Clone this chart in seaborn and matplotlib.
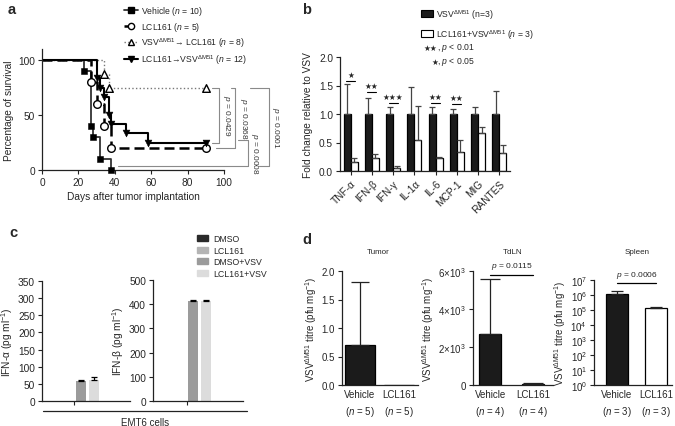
import numpy as np
import pandas as pd
import matplotlib
matplotlib.use("Agg")
import matplotlib.pyplot as plt
from matplotlib.lines import Line2D
from matplotlib.patches import Patch
import seaborn as sns

W, H = 675, 427

# ---- a: survival (percent surviving at each event day)
veh_days = [0, 23, 27, 28, 32, 38]
veh_surv = [100, 90, 40, 30, 10, 0]
lcl_days = [0, 27, 30, 34, 38, 90]
lcl_surv = [100, 80, 60, 40, 20, 20]
vsvlcl_days = [0, 34, 37, 90]
vsvlcl_surv = [100, 87.5, 75, 75]
lclvsv_days = [0, 30, 32, 34, 37, 38, 46, 58, 90]
lclvsv_surv = [100, 83.3, 75, 66.7, 50, 41.7, 33.3, 25, 25]
surv_labels = ["Vehicle ($n$ = 10)", "LCL161 ($n$ = 5)",
               "VSV$^{\\mathrm{\\Delta M51}}$\u2192 LCL161 ($n$ = 8)",
               "LCL161\u2192VSV$^{\\mathrm{\\Delta M51}}$ ($n$ = 12)"]
surv_pvals = ["0.0429", "0.0368", "0.0008", "0.0001"]

# ---- b: cytokines, fold change
cytokines = ["TNF-\u03b1", "IFN-\u03b2", "IFN-\u03b3", "IL-1\u03b1", "IL-6", "MCP-1", "MIG", "RANTES"]
vsv_fold = [1.0, 1.0, 1.0, 1.0, 1.0, 1.0, 1.0, 1.0]
vsv_err = [0.52, 0.28, 0.12, 0.48, 0.12, 0.08, 0.13, 0.41]
combo_fold = [0.15, 0.23, 0.06, 0.55, 0.23, 0.34, 0.66, 0.31]
combo_err = [0.08, 0.07, 0.02, 0.59, 0.01, 0.20, 0.12, 0.15]
sig_stars = ["\u2605", "\u2605\u2605", "\u2605\u2605\u2605", "", "\u2605\u2605", "\u2605\u2605", "", ""]
sig_level = [1.58, 1.39, 1.19, 0, 1.19, 1.18, 0, 0]

# ---- c: interferons in EMT6 cells
conditions = ["DMSO", "LCL161", "DMSO+VSV", "LCL161+VSV"]
cond_colors = ["#2a2a2a", "#b4b4b4", "#9b9b9b", "#dcdcdc"]
ifna_vals = [0, 0, 59, 61]
ifna_err = [0, 0, 1.5, 9]
ifnb_vals = [0, 0, 414, 414]
ifnb_err = [0, 0, 3, 3]

# ---- d: viral titres
groups_d = ["Vehicle", "LCL161"]
tumor_vals = [0.7, 0.0]
tumor_err = [1.1, 0.0]
tumor_n = [5, 5]
tdln_vals = [2700, 50]
tdln_err = [2900, 60]
tdln_n = [4, 4]
spleen_vals = [1.2e6, 1.3e5]
spleen_err = [0.55e6, 0.3e5]
spleen_n = [3, 3]

sns.set_theme(style="ticks")
plt.rcParams["font.family"] = ["Liberation Sans", "DejaVu Sans"]
plt.rcParams["mathtext.fontset"] = "custom"
plt.rcParams["mathtext.rm"] = "Liberation Sans"
plt.rcParams["mathtext.it"] = "Liberation Sans:italic"
plt.rcParams["mathtext.bf"] = "Liberation Sans:bold"
plt.rcParams["axes.linewidth"] = 0.9
plt.rcParams["axes.edgecolor"] = "#222222"

fig = plt.figure(figsize=(W / 100, H / 100), dpi=100)
fig.patch.set_facecolor("white")


def rect(x0, x1, ytop, ybot):
    return [x0 / W, 1 - ybot / H, (x1 - x0) / W, (ybot - ytop) / H]


def style(ax, fs=7.3):
    sns.despine(ax=ax)
    ax.tick_params(axis="both", labelsize=fs, length=3, width=0.8, color="#222222", pad=2)


# ===================== a =====================
ax_a = fig.add_axes(rect(42, 224, 50, 171))
curves = [
    (veh_days, veh_surv, dict(color="#333333", lw=1.3, ls="-"), dict(marker="s", s=22, color="black", edgecolor="black")),
    (lcl_days, lcl_surv, dict(color="black", lw=1.8, ls=(0, (4, 2))), dict(marker="o", s=30, color="white", edgecolor="black", linewidth=1)),
    (vsvlcl_days, vsvlcl_surv, dict(color="#777777", lw=1.0, ls=":"), dict(marker="^", s=30, color="white", edgecolor="black", linewidth=1)),
    (lclvsv_days, lclvsv_surv, dict(color="black", lw=1.5, ls="-"), dict(marker="v", s=24, color="black", edgecolor="black")),
]
for days, surv, lkw, mkw in curves:
    sns.lineplot(x=days, y=surv, drawstyle="steps-post", estimator=None, sort=False, ax=ax_a, **lkw)
    sns.scatterplot(x=days[1:], y=surv[1:], ax=ax_a, zorder=4, clip_on=False, **mkw)
ax_a.set_xlim(0, 100)
ax_a.set_ylim(0, 110)
ax_a.set_xticks([0, 20, 40, 60, 80, 100])
ax_a.set_yticks([0, 50, 100])
style(ax_a)
ax_a.set_xlabel("Days after tumor implantation", fontsize=7.3, labelpad=3)
ax_a.set_ylabel("Percentage of survival", fontsize=7.3, labelpad=3)

handles_a = [Line2D([], [], color=l["color"], lw=l["lw"], ls=l["ls"], marker=m["marker"],
                    markersize=4.5, markerfacecolor=m["color"], markeredgecolor="black")
             for _, _, l, m in curves]
fig.legend(handles_a, surv_labels, loc="upper left", bbox_to_anchor=(124 / W, 1 - 5 / H),
           frameon=False, fontsize=6.2, handlelength=1.6, labelspacing=0.32, handletextpad=0.4,
           borderpad=0, borderaxespad=0)

# p-value brackets (x in days, beyond the axis)
brackets = [
    (vsvlcl_surv[-1], lclvsv_surv[-1], 93.4, 93.4, 97.3, 101.5),
    (vsvlcl_surv[-1], lcl_surv[-1], 103.8, 95.6, 106.0, 110.5),
    (lclvsv_surv[-1] + 2, veh_surv[-1] + 3.7, 107.7, 41.8, 113.2, 117.0),
    (vsvlcl_surv[-1], veh_surv[-1] + 3.7, 114.3, 119.0, 124.7, 128.5),
]
for (yt, yb, xt, xb, xv, xtxt), pv in zip(brackets, surv_pvals):
    kw = dict(color="#8a8a8a", lw=0.8, clip_on=False)
    ax_a.plot([xt, xv], [yt, yt], **kw)
    ax_a.plot([xv, xv], [yt, yb], **kw)
    ax_a.plot([xb, xv], [yb, yb], **kw)
    ax_a.text(xtxt, (yt + yb) / 2, f"$p$ = {pv}", rotation=-90, ha="center", va="center",
              fontsize=6, color="#333333")

# ===================== b =====================
ax_b = fig.add_axes(rect(340, 510, 58, 172))
df_b = pd.DataFrame({
    "cytokine": cytokines * 2,
    "fold": vsv_fold + combo_fold,
    "group": ["VSV"] * len(cytokines) + ["LCL161+VSV"] * len(cytokines),
})
sns.barplot(data=df_b, x="cytokine", y="fold", hue="group", palette=["#1b1b1b", "white"],
            edgecolor="black", linewidth=0.9, width=0.66, gap=0, errorbar=None, legend=False, ax=ax_b)
centers = []
for cont, errs in zip(ax_b.containers, [vsv_err, combo_err]):
    xs = [p.get_x() + p.get_width() / 2 for p in cont]
    ys = [p.get_height() for p in cont]
    centers.append(xs)
    ax_b.errorbar(xs, ys, yerr=[np.zeros(len(errs)), errs], fmt="none", ecolor="#444444",
                  elinewidth=0.9, capsize=2, capthick=0.9)
for i, (st, lv) in enumerate(zip(sig_stars, sig_level)):
    if st:
        ax_b.plot([centers[0][i] - 0.05, centers[1][i] + 0.05], [lv, lv], color="black", lw=0.8)
        ax_b.text((centers[0][i] + centers[1][i]) / 2, lv + 0.03, st, ha="center", va="bottom",
                  fontsize=5.5, family="DejaVu Sans")
ax_b.set_xlim(-0.5, 7.5)
ax_b.set_ylim(0, 2)
ax_b.set_yticks([0, 0.5, 1.0, 1.5, 2.0])
ax_b.set_yticklabels(["0.0", "0.5", "1.0", "1.5", "2.0"])
style(ax_b)
ax_b.set_xlabel("")
ax_b.set_ylabel("Fold change relative to VSV", fontsize=7.3, labelpad=4)
for lbl in ax_b.get_xticklabels():
    lbl.set_rotation(45)
    lbl.set_ha("right")
    lbl.set_rotation_mode("anchor")

fig.legend([Patch(facecolor="#1b1b1b", edgecolor="black", lw=0.8),
            Patch(facecolor="white", edgecolor="black", lw=0.8)],
           ["VSV$^{\\mathrm{\\Delta M51}}$ (n=3)", "LCL161+VSV$^{\\mathrm{\\Delta M51}}$ ($n$ = 3)"],
           loc="upper left", bbox_to_anchor=(421 / W, 1 - 8 / H), frameon=False, fontsize=6.2,
           handlelength=1.4, handleheight=0.9, labelspacing=0.75, handletextpad=0.4,
           borderpad=0, borderaxespad=0)
fig.text(423 / W, 1 - 48 / H, "\u2605\u2605", family="DejaVu Sans", fontsize=5.5, va="center")
fig.text(437 / W, 1 - 48 / H, ", $p$ < 0.01", fontsize=6.2, va="center")
fig.text(431 / W, 1 - 62 / H, "\u2605", family="DejaVu Sans", fontsize=5.5, va="center")
fig.text(437 / W, 1 - 62 / H, ", $p$ < 0.05", fontsize=6.2, va="center")

# ===================== c =====================
c_specs = [
    (rect(42, 130, 282, 402), ifna_vals, ifna_err, (0, 350), [0, 50, 100, 150, 200, 250, 300, 350],
     "IFN-\u03b1 (pg ml$^{-1}$)", (-0.5, 0.854)),
    (rect(153, 243, 281, 402), ifnb_vals, ifnb_err, (0, 500), [0, 100, 200, 300, 400, 500],
     "IFN-\u03b2 (pg ml$^{-1}$)", (-0.523, 0.862)),
]
for r, vals, errs, ylim, yt, ylab, xlim in c_specs:
    ax = fig.add_axes(r)
    df_c = pd.DataFrame({"cells": ["EMT6"] * len(conditions), "val": vals, "cond": conditions})
    sns.barplot(data=df_c, x="cells", y="val", hue="cond", hue_order=conditions, palette=cond_colors,
                width=0.8, gap=0.23, linewidth=0, errorbar=None, legend=False, ax=ax)
    for cont, e in zip(ax.containers, errs):
        p = cont[0]
        if e > 0:
            ax.errorbar(p.get_x() + p.get_width() / 2, p.get_height(), yerr=[[0], [e]], fmt="none",
                        ecolor="black", elinewidth=0.9, capsize=2, capthick=0.9)
    ax.set_xlim(*xlim)
    ax.set_ylim(*ylim)
    ax.set_yticks(yt)
    ax.set_xticks([0])
    ax.set_xticklabels([""])
    style(ax)
    ax.set_xlabel("")
    ax.set_ylabel(ylab, fontsize=7.3, labelpad=2)

fig.add_artist(Line2D([43 / W, 247 / W], [1 - 412 / H, 1 - 412 / H], color="#222222", lw=0.9))
fig.text(145 / W, 1 - 423 / H, "EMT6 cells", fontsize=7, ha="center", va="center")
fig.legend([Patch(facecolor=c, edgecolor=c) for c in cond_colors], conditions, loc="upper left",
           bbox_to_anchor=(197 / W, 1 - 235 / H), frameon=False, fontsize=6.3, handlelength=1.3,
           handleheight=0.7, labelspacing=0.3, handletextpad=0.5, borderpad=0, borderaxespad=0)

# ===================== d =====================
ylab_d = "VSV$^{\\mathrm{\\Delta M51}}$ titre (pfu mg$^{-1}$)"
d_specs = [
    ("Tumor", rect(342, 418, 272, 386), tumor_vals, tumor_err, tumor_n, 0.75, (-0.46, 1.49), 6.5, None),
    ("TdLN", rect(473, 553, 272, 386), tdln_vals, tdln_err, tdln_n, 0.5, (-0.4, 1.46), 7, ("0.0115", 5790)),
    ("Spleen", rect(594, 672, 281, 386), spleen_vals, spleen_err, spleen_n, 0.54, (-0.59, 1.41), 4.5, ("0.0006", 6.5e6)),
]
title_x = [378, 513, 637]
for (name, r, vals, errs, ns, bw, xlim, cap, pv), tx in zip(d_specs, title_x):
    ax = fig.add_axes(r)
    df_d = pd.DataFrame({"grp": groups_d, "val": vals})
    sns.barplot(data=df_d, x="grp", y="val", hue="grp", palette=["#1b1b1b", "white"], width=bw,
                edgecolor="black", linewidth=0.9, errorbar=None, legend=False, ax=ax)
    if name == "Spleen":
        ax.set_yscale("log", nonpositive="clip")
    for cont, e in zip(ax.containers, errs):
        p = cont[0]
        if e > 0:
            ax.errorbar(p.get_x() + p.get_width() / 2, p.get_height(), yerr=[[0], [e]], fmt="none",
                        ecolor="#222222", elinewidth=0.9, capsize=cap, capthick=0.9)
    ax.set_xlim(*xlim)
    if name == "Tumor":
        ax.set_ylim(0, 2)
        ax.set_yticks([0, 0.5, 1.0, 1.5, 2.0])
        ax.set_yticklabels(["0.0", "0.5", "1.0", "1.5", "2.0"])
    elif name == "TdLN":
        ax.set_ylim(0, 6000)
        ax.set_yticks([0, 2000, 4000, 6000])
        ax.set_yticklabels(["0", "2\u00d710$^{3}$", "4\u00d710$^{3}$", "6\u00d710$^{3}$"])
    else:
        ax.set_ylim(1, 1e7)
        ax.set_yticks([10.0 ** k for k in range(8)])
        ax.set_yticklabels([f"10$^{{{k}}}$" for k in range(8)])
        ax.minorticks_off()
    ax.set_xticks([0, 1])
    ax.set_xticklabels([f"{g}\n($n$ = {n})" for g, n in zip(groups_d, ns)])
    style(ax, fs=7)
    ax.tick_params(axis="x", length=0, pad=3)
    for lbl in ax.get_xticklabels():
        lbl.set_linespacing(1.5)
    ax.set_xlabel("")
    ax.set_ylabel(ylab_d, fontsize=7, labelpad=2)
    if pv is not None:
        ax.plot([0, 1], [pv[1], pv[1]], color="black", lw=0.9, clip_on=False)
        ax.text(0.5, pv[1] * (1.04 if name == "TdLN" else 1.6), f"$p$ = {pv[0]}", ha="center",
                va="bottom", fontsize=6, clip_on=False)
    fig.text(tx / W, 1 - 253 / H, name, fontsize=5.8, ha="center", va="center")

# panel letters
for lt, x, y in [("a", 8, 10), ("b", 302, 10), ("c", 9, 233), ("d", 302, 240)]:
    fig.text(x / W, 1 - y / H, lt, fontsize=10.5, fontweight="bold", ha="left", va="center")

fig.savefig("out.png", dpi=100)
